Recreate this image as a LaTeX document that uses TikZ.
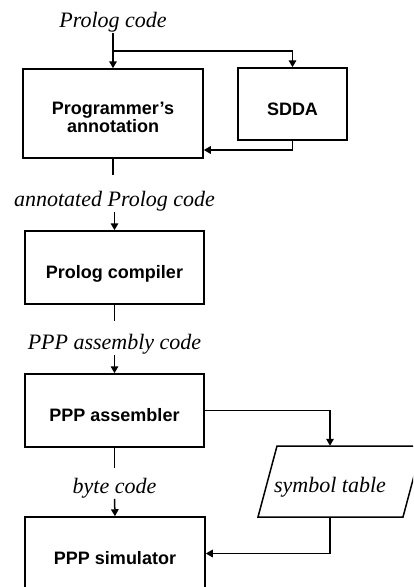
\documentclass[tikz,border=0pt]{standalone}
\usepackage{fontspec}
\setmainfont{Liberation Serif}
\setsansfont{Liberation Sans}
\usetikzlibrary{arrows.meta,calc}

\tikzset{
  flow/.style={line width=1.5pt},
  arr/.style={flow,-{Triangle[length=7pt,width=7.5pt]}},
  stage/.style={draw,line width=1.5pt,rectangle,inner sep=0pt,
    font=\sffamily\bfseries\fontsize{18}{18}\selectfont},
  oneline/.style={stage,text height=22pt,text depth=0pt},
  datalabel/.style={inner sep=1pt,anchor=base,
    font=\itshape\fontsize{22}{24}\selectfont},
}
% two centred lines, baselines 18pt apart, reference point on the first line
\newcommand\twolines[2]{\vtop{\baselineskip=18pt\lineskiplimit=-20pt
  \lineskip=0pt\halign{\hfil##\hfil\cr#1\cr#2\cr}}}

\begin{document}
\begin{tikzpicture}[x=1pt,y=-1pt]
\useasboundingbox (0,0) rectangle (413,587);
\clip (0,0) rectangle (413,587);

% front end: annotation of the source program
\node[datalabel] (lblProlog) at (113,27.5) {Prolog code};
\node[stage,minimum width=180pt,minimum height=89pt,
  text height=16.6pt,text depth=15pt] (progAnn)
  at (113,113.5) {\twolines{Programmer’s}{annotation}};
\node[oneline,minimum width=109pt,minimum height=72pt] (sdda)
  at (292.5,104) {SDDA};
\coordinate (fork) at (113,51);

% compilation
\node[datalabel] (lblAnn) at (114.5,206) {annotated Prolog code};
\node[oneline,minimum width=179pt,minimum height=73pt] (compiler)
  at (114.5,267.5) {Prolog compiler};

% assembly
\node[datalabel] (lblAsm) at (114.5,349) {PPP assembly code};
\node[oneline,minimum width=179pt,minimum height=73pt] (assembler)
  at (114.5,410.5) {PPP assembler};

% simulation
\node[datalabel] (lblByte) at (114.5,493) {byte code};
\node[oneline,minimum width=180pt,minimum height=73pt] (simulator)
  at (115,553.5) {PPP simulator};

% symbol table (parallelogram drawn around its text node)
\node[inner sep=0pt,minimum width=145pt,minimum height=71pt,
  text height=22pt,text depth=0pt,
  font=\itshape\fontsize{22}{24}\selectfont] (symtab)
  at (330,481.5) {symbol table};
\draw[flow] ($(symtab.center)+(-53,-35.5)$) -- ($(symtab.center)+(92,-35.5)$)
  -- ($(symtab.center)+(73,35.5)$) -- ($(symtab.center)+(-72,35.5)$) -- cycle;

% free ends of the outgoing lines
\coordinate (end1) at (113,175);
\coordinate (end2) at (114.5,321);
\coordinate (end3) at (114.5,468);

% connectors
\draw[arr] (lblProlog.south) -- (progAnn.north);
\draw[arr] (fork) -| (sdda.north);
\draw[arr] (sdda.south) |- ([yshift=-36.5pt]progAnn.east);
\draw[flow] (progAnn.south) -- (end1);
\draw[arr] (lblAnn.south) -- (compiler.north);
\draw[flow] (compiler.south) -- (end2);
\draw[arr] (lblAsm.south) -- (assembler.north);
\draw[flow] (assembler.south) -- (end3);
\draw[arr] (lblByte.south) -- (simulator.north);
\draw[arr] (assembler.east) -| (symtab.north);
\draw[arr] (symtab.south) |- (simulator.east);
\end{tikzpicture}
\end{document}
